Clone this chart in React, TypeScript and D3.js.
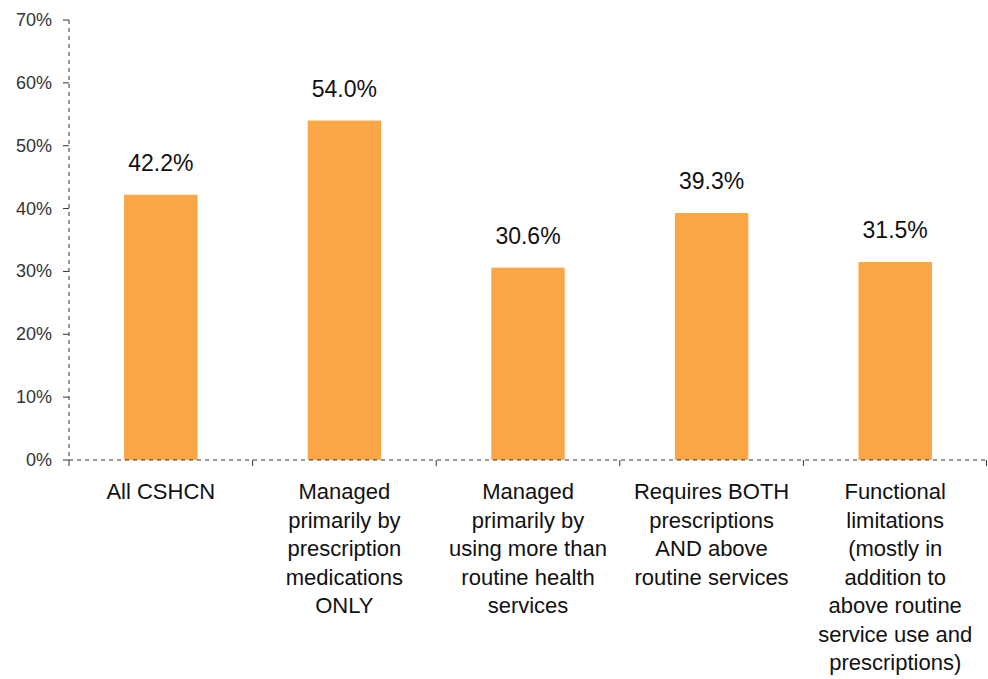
import React from "react";
import * as d3 from "d3";

const categories: string[][] = [
  ["All CSHCN"],
  ["Managed", "primarily by", "prescription", "medications", "ONLY"],
  ["Managed", "primarily by", "using more than", "routine health", "services"],
  ["Requires BOTH", "prescriptions", "AND above", "routine services"],
  ["Functional", "limitations", "(mostly in", "addition to", "above routine", "service use and", "prescriptions)"],
];
const values: number[] = [42.2, 54.0, 30.6, 39.3, 31.5];
const yTicks: number[] = [0, 10, 20, 30, 40, 50, 60, 70];

export default function App() {
  const W = 988, H = 679;
  const left = 69, right = 987, top = 20, bottom = 460;
  const ids = categories.map((_, i) => String(i));
  const x = d3.scaleBand<string>().domain(ids).range([left, right]).paddingInner(0.6).paddingOuter(0.3);
  const band = d3.scaleBand<string>().domain(ids).range([left, right]);
  const y = d3.scaleLinear().domain([0, 70]).range([bottom, top]);
  const font = "'Liberation Sans', Arial, sans-serif";
  const axisColor = "#333";
  return (
    <div style={{ position: "fixed", left: 0, top: 0, width: W, height: H, overflow: "hidden" }}>
      <svg width={W} height={H} style={{ display: "block", fontFamily: font }}>
        <rect width={W} height={H} fill="#fff" />
        {values.map((v, i) => (
          <rect key={i} x={x(String(i))} y={y(v)} width={x.bandwidth()} height={bottom - y(v)} fill="#FCA747" />
        ))}
        {values.map((v, i) => (
          <text key={"l" + i} x={x(String(i))! + x.bandwidth() / 2} y={y(v) - 24} textAnchor="middle" fontSize={23} fill="#111">
            {v.toFixed(1) + "%"}
          </text>
        ))}
        {/* y axis */}
        <line x1={left} x2={left} y1={top} y2={bottom} stroke={axisColor} strokeDasharray="4,4" />
        {yTicks.map((t) => (
          <g key={t}>
            <line x1={left - 6} x2={left} y1={y(t)} y2={y(t)} stroke={axisColor} />
            <text x={52} y={y(t) + 6} textAnchor="end" fontSize={18} fill="#333">{t + "%"}</text>
          </g>
        ))}
        {/* x axis */}
        <line x1={left} x2={right} y1={bottom} y2={bottom} stroke={axisColor} strokeDasharray="4,4" />
        {ids.map((id) => (
          <line key={"t" + id} x1={band(id)} x2={band(id)} y1={bottom} y2={bottom + 6} stroke={axisColor} />
        ))}
        <line x1={right - 0.5} x2={right - 0.5} y1={bottom} y2={bottom + 6} stroke={axisColor} />
        {categories.map((lines, i) => (
          <text key={"c" + i} textAnchor="middle" fontSize={22} fill="#111">
            {lines.map((ln, j) => (
              <tspan key={j} x={band(String(i))! + band.bandwidth() / 2} y={499 + j * 28.5}>{ln}</tspan>
            ))}
          </text>
        ))}
      </svg>
    </div>
  );
}
